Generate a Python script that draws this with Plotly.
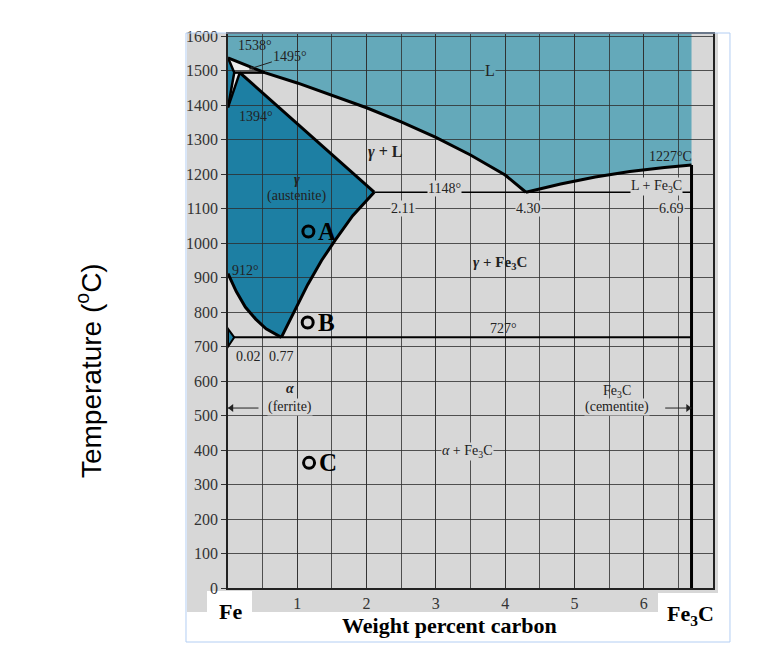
import plotly.graph_objects as go

# %%
# Axis ticks
x_tickvals = [1, 2, 3, 4, 5, 6]
x_grid_step = 0.5
y_tickvals = [0, 100, 200, 300, 400, 500, 600, 700, 800, 900, 1000,
              1100, 1200, 1300, 1400, 1500, 1600]
y_top = 1607

# %%
# Phase boundaries (wt% C, deg C)
liq_left_c = [0, 0.53, 1.0, 1.5, 2.0, 2.5, 3.0, 3.5, 4.0, 4.30]
liq_left_t = [1538, 1495, 1465, 1430, 1393, 1352, 1307, 1256, 1198, 1148]
liq_right_c = [4.30, 4.8, 5.3, 5.8, 6.3, 6.69]
liq_right_t = [1148, 1172, 1192, 1208, 1220, 1227]
sol_c = [2.11, 0.17]
sol_t = [1148, 1495]
acm_c = [0.77, 0.95, 1.15, 1.35, 1.55, 1.8, 2.11]
acm_t = [727, 800, 880, 950, 1010, 1080, 1148]
a3_c = [0, 0.12, 0.25, 0.4, 0.55, 0.77]
a3_t = [912, 860, 815, 780, 752, 727]
delta_c = [0, 0.09, 0]
delta_t = [1538, 1495, 1394]
gam_top_c = [0, 0.17]
gam_top_t = [1394, 1495]
perit_c = [0.09, 0.53]
perit_t = [1495, 1495]
alpha_c = [0, 0.09, 0]
alpha_t = [752, 727, 700]
eutectic_c = [2.11, 6.69]
eutectic_t = [1148, 1148]
eutectoid_c = [0, 6.69]
eutectoid_t = [727, 727]
fe3c_c = [6.69, 6.69]
fe3c_t = [1227, 0]

# points A, B, C
pt_names = ['A', 'B', 'C']
pt_c = [1.16, 1.15, 1.17]
pt_t = [1034, 770, 363]

GRAY = '#d7d7d7'
TEAL = '#64a9ba'
BLUE = '#1d7fa3'
GRID = 'rgba(45,45,45,0.8)'
SERIF = 'Liberation Serif, Times New Roman, serif'


def path(xs, ys):
    pts = ['%s,%s' % (x, y) for x, y in zip(xs, ys)]
    return 'M ' + ' L '.join(pts) + ' Z'


fig = go.Figure()

# %%
# filled phase fields (below the grid)
liq_x = liq_left_c + liq_right_c[1:] + [6.69, 0]
liq_y = liq_left_t + liq_right_t[1:] + [y_top, y_top]
aus_x = a3_c + acm_c[1:] + sol_c[1:] + [0]
aus_y = a3_t + acm_t[1:] + sol_t[1:] + [1394]

shapes = [
    # picture background and frame (paper coords)
    dict(type='rect', xref='paper', yref='paper', x0=-0.0845, x1=1.0103,
         y0=-0.0433, y1=1.0018, fillcolor=GRAY, line_width=0, layer='below'),
    dict(type='rect', xref='paper', yref='paper', x0=-0.0433, x1=0.0495,
         y0=-0.0433, y1=-0.0054, fillcolor='white', line_width=0, layer='below'),
    dict(type='rect', xref='paper', yref='paper', x0=0.8866, x1=1.0103,
         y0=-0.0433, y1=-0.009, fillcolor='white', line_width=0, layer='below'),
    dict(type='rect', xref='paper', yref='paper', x0=-0.0866, x1=1.035,
         y0=-0.0975, y1=1.0018, line=dict(color='#b3cef3', width=1),
         layer='above'),
    dict(type='path', path=path(liq_x, liq_y), fillcolor=TEAL,
         line_width=0, layer='below'),
    dict(type='path', path=path(aus_x, aus_y), fillcolor=BLUE,
         line_width=0, layer='below'),
    dict(type='path', path=path(delta_c, delta_t), fillcolor=BLUE,
         line_width=0, layer='below'),
    dict(type='path', path=path([0, 0.09, 0.53], [1538, 1495, 1495]),
         fillcolor='#ececec', line_width=0, layer='below'),
    dict(type='path', path=path([0, 0.09, 0.17], [1394, 1495, 1495]),
         fillcolor='#ececec', line_width=0, layer='below'),
    dict(type='path', path=path(alpha_c, alpha_t), fillcolor=BLUE,
         line=dict(color='black', width=2), layer='above'),
    # arrows beside (ferrite) and (cementite)
    dict(type='line', x0=0.0, x1=0.44, y0=522, y1=522,
         line=dict(color='#222', width=1)),
    dict(type='line', x0=6.31, x1=6.69, y0=522, y1=522,
         line=dict(color='#222', width=1)),
]

# %%
# boundary lines
lines = [
    (liq_left_c, liq_left_t, 3),
    (liq_right_c, liq_right_t, 3),
    (sol_c, sol_t, 3),
    (acm_c, acm_t, 3),
    (a3_c, a3_t, 3),
    (delta_c, delta_t, 2.5),
    (gam_top_c, gam_top_t, 2.5),
    (perit_c, perit_t, 2.5),
    (eutectic_c, eutectic_t, 1.3),
    (eutectoid_c, eutectoid_t, 2),
    (fe3c_c, fe3c_t, 3),
]
for xs, ys, w in lines:
    fig.add_trace(go.Scatter(x=xs, y=ys, mode='lines', hoverinfo='skip',
                             line=dict(color='black', width=w),
                             showlegend=False))

fig.add_trace(go.Scatter(x=pt_c, y=pt_t, mode='markers', showlegend=False,
                         marker=dict(symbol='circle-open', size=11,
                                     color='black', line=dict(width=3))))

# arrow heads
fig.add_trace(go.Scatter(x=[0.05, 6.64], y=[522, 522], mode='markers',
                         showlegend=False, hoverinfo='skip',
                         marker=dict(symbol=['triangle-left', 'triangle-right'],
                                     size=7, color='#222')))

# %%
# labels
def lab(x, y, text, size=14, bg=None, **kw):
    d = dict(x=x, y=y, xref='x', yref='y', text=text, showarrow=False,
             font=dict(family=SERIF, size=size, color='#222'))
    if bg:
        d['bgcolor'] = bg
        d['borderpad'] = 0
    d.update(kw)
    return d


def paper_lab(x, y, text, size, family=SERIF, **kw):
    d = dict(x=x, y=y, xref='paper', yref='paper', text=text,
             showarrow=False, xanchor='center', yanchor='middle',
             font=dict(family=family, size=size, color='black'))
    d.update(kw)
    return d


annotations = [
    lab(0.39, 1575, '1538°'),
    lab(0.40, 1368, '1394°'),
    lab(3.78, 1500, 'L', size=16, bg=TEAL),
    lab(2.27, 1265, '<b><i>γ</i> + L</b>', size=16),
    lab(0.99, 1185, '<b><i>γ</i></b>', size=14),
    lab(0.99, 1136, '(austenite)', size=14),
    lab(3.13, 1160, '1148°', bg=GRAY),
    lab(2.53, 1100, '2.11', bg=GRAY),
    lab(4.33, 1100, '4.30', bg=GRAY),
    lab(6.40, 1100, '6.69', bg=GRAY),
    lab(6.38, 1251, '1227°C'),
    lab(6.19, 1164, 'L + Fe<sub>3</sub>C', bg=GRAY),
    lab(0.25, 922, '912°'),
    lab(3.92, 942, '<b><i>γ</i> + Fe<sub>3</sub>C</b>', size=15),
    lab(3.97, 753, '727°'),
    lab(0.29, 671, '0.02'),
    lab(0.77, 671, '0.77'),
    lab(0.89, 578, '<b><i>α</i></b>', size=14),
    lab(0.89, 524, '(ferrite)', bg=GRAY),
    lab(5.61, 569, 'Fe<sub>3</sub>C'),
    lab(5.61, 524, '(cementite)', bg=GRAY),
    lab(3.46, 395, '<i>α</i> + Fe<sub>3</sub>C', bg=GRAY),
    dict(x=0.3, y=1505, xref='x', yref='y', ax=0.9, ay=1543, axref='x',
         ayref='y', text='1495°', showarrow=True, arrowhead=2, arrowsize=0.8,
         arrowwidth=1, arrowcolor='#222',
         font=dict(family=SERIF, size=14, color='#222')),
    # outside texts
    paper_lab(0.006, -0.043, '<b>Fe</b>', 22),
    paper_lab(0.456, -0.067, '<b>Weight percent carbon</b>', 22),
    paper_lab(0.953, -0.049, '<b>Fe<sub>3</sub>C</b>', 22),
    paper_lab(-0.285, 0.393, 'Temperature (<sup>o</sup>C)', 28,
              family='Liberation Sans, Arial, sans-serif', textangle=-90),
]
for name, c, t in zip(pt_names, pt_c, pt_t):
    annotations.append(lab(c + 0.27, t, '<b>%s</b>' % name, size=25,
                           font=dict(family=SERIF, size=25, color='black')))

# page body adds 8px; margins keep the plot area at 228..713 x 34..588
fig.update_layout(
    width=783, height=655,
    margin=dict(l=220, r=78, t=26, b=75),
    paper_bgcolor='white', plot_bgcolor=GRAY,
    shapes=shapes, annotations=annotations,
    showlegend=False,
)
fig.update_xaxes(range=[0, 7], tickvals=x_tickvals,
                 showgrid=True, gridcolor=GRID, gridwidth=1,
                 minor=dict(dtick=x_grid_step, tick0=0, showgrid=True,
                            gridcolor=GRID, gridwidth=1, ticks=''),
                 showline=True, linecolor='#222', linewidth=1.5, mirror=True,
                 zeroline=False, ticks='',
                 tickfont=dict(family=SERIF, size=16, color='#333'))
fig.update_yaxes(range=[0, y_top], tickvals=y_tickvals,
                 showgrid=True, gridcolor=GRID, gridwidth=1,
                 showline=True, linecolor='#222', linewidth=1.5, mirror=True,
                 zeroline=False, ticks='outside', ticklen=5, tickcolor='#333',
                 tickfont=dict(family=SERIF, size=16, color='#333'))

fig.write_html("out.html")
